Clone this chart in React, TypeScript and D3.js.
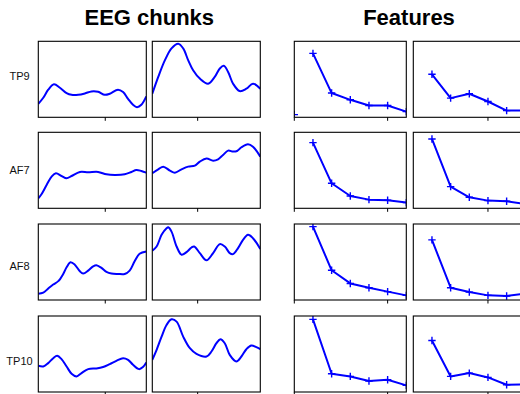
import React from "react";
import * as d3 from "d3";

// ---------- data ----------
const channels = ["TP9", "AF7", "AF8", "TP10"];
const columnTitles = ["EEG chunks", "Features"];

// time (s) covered by each EEG chunk and the one tick shown on each
const chunkDomains: [number, number][] = [
  [0.38, 1.38],
  [1.58, 2.58],
];
const chunkTicks = [[1.0], [2.0]];

// EEG samples: [time (s), amplitude]
const tp9Chunk1: [number, number][] = [
  [0.38, 17.7], [0.426, 25.7], [0.472, 36.3], [0.525, 43.4], [0.58, 38.9], [0.642, 31.9],
  [0.688, 29.6], [0.749, 29.6], [0.811, 31.4], [0.872, 34.1], [0.934, 33.6], [0.995, 29.6],
  [1.042, 31.0], [1.118, 36.3], [1.165, 33.2], [1.211, 24.3], [1.257, 16.4], [1.294, 13.3],
  [1.334, 16.4], [1.38, 27.4],
];
const tp9Chunk2: [number, number][] = [
  [1.58, 31.0], [1.635, 53.1], [1.697, 75.2], [1.758, 90.7], [1.82, 96.9], [1.866, 90.7],
  [1.912, 75.2], [1.958, 61.9], [2.02, 50.9], [2.097, 44.2], [2.158, 53.1], [2.205, 64.2],
  [2.242, 67.7], [2.282, 59.7], [2.328, 44.2], [2.389, 34.5], [2.451, 37.6], [2.512, 44.2],
  [2.58, 37.6],
];
const af7Chunk1: [number, number][] = [
  [0.38, 13.2], [0.411, 18.9], [0.457, 30.7], [0.503, 41.7], [0.543, 46.1], [0.595, 42.5],
  [0.642, 39.5], [0.688, 42.5], [0.765, 47.8], [0.842, 47.4], [0.934, 47.8], [1.011, 44.7],
  [1.088, 43.9], [1.18, 44.7], [1.242, 47.8], [1.288, 50.4], [1.334, 49.1], [1.38, 46.9],
];
const af7Chunk2: [number, number][] = [
  [1.58, 46.1], [1.635, 51.3], [1.682, 54.8], [1.743, 49.6], [1.789, 46.9], [1.851, 51.3],
  [1.912, 54.8], [1.974, 56.1], [2.02, 61.4], [2.082, 65.4], [2.143, 62.7], [2.189, 64.5],
  [2.235, 70.2], [2.282, 75.9], [2.328, 74.6], [2.365, 75.4], [2.405, 80.3], [2.466, 84.2],
  [2.512, 81.1], [2.58, 68.0],
];
const af8Chunk1: [number, number][] = [
  [0.38, 8.3], [0.426, 9.6], [0.472, 15.2], [0.518, 20.4], [0.565, 24.8], [0.611, 34.3],
  [0.642, 43.0], [0.678, 49.6], [0.718, 46.5], [0.765, 37.8], [0.795, 34.8], [0.842, 38.7],
  [0.888, 44.3], [0.918, 45.7], [0.965, 42.2], [1.011, 37.0], [1.057, 34.8], [1.118, 34.3],
  [1.18, 34.3], [1.226, 38.7], [1.272, 50.9], [1.318, 60.9], [1.38, 63.9],
];
const af8Chunk2: [number, number][] = [
  [1.58, 64.8], [1.62, 70.4], [1.666, 85.7], [1.712, 94.3], [1.728, 95.7], [1.758, 90.0],
  [1.805, 70.4], [1.851, 59.6], [1.897, 63.0], [1.943, 69.1], [1.968, 70.4], [2.02, 61.7],
  [2.082, 52.2], [2.143, 61.7], [2.205, 73.5], [2.251, 70.4], [2.297, 61.7], [2.328, 60.4],
  [2.374, 68.3], [2.42, 79.1], [2.466, 85.7], [2.512, 81.3], [2.58, 67.0],
];
const tp10Chunk1: [number, number][] = [
  [0.38, 34.5], [0.426, 33.6], [0.472, 38.0], [0.518, 44.5], [0.555, 47.6], [0.595, 43.2],
  [0.642, 33.6], [0.688, 24.0], [0.734, 20.5], [0.78, 24.9], [0.842, 30.1], [0.918, 31.0],
  [0.98, 32.8], [1.042, 36.7], [1.103, 41.0], [1.165, 44.5], [1.211, 42.4], [1.257, 35.8],
  [1.312, 30.1], [1.349, 32.8], [1.38, 38.9],
];
const tp10Chunk2: [number, number][] = [
  [1.58, 42.4], [1.62, 55.5], [1.666, 72.9], [1.712, 88.2], [1.758, 95.6], [1.805, 92.6],
  [1.866, 72.9], [1.928, 57.6], [1.989, 50.2], [2.082, 46.7], [2.128, 53.3], [2.174, 64.2],
  [2.211, 69.4], [2.251, 64.2], [2.297, 48.9], [2.358, 40.2], [2.405, 46.7], [2.451, 56.3],
  [2.497, 61.1], [2.543, 59.0], [2.58, 56.3],
];

// features: index 1..6 per chunk
const featureDomain: [number, number] = [0, 6];
const featureTicks = [[0, 5], [4]];
const featureIndex = [1, 2, 3, 4, 5, 6];
const tp9Feat1 = [84.1, 31.9, 23.0, 15.5, 15.5, 7.5];
const tp9Feat2 = [56.6, 25.2, 31.0, 20.8, 8.8, 8.8];
const af7Feat1 = [86.4, 32.9, 16.2, 11.4, 10.5, 7.5];
const af7Feat2 = [91.2, 28.5, 14.5, 10.1, 9.2, 5.7];
const af8Feat1 = [96.5, 39.1, 21.8, 16.2, 11.0, 6.1];
const af8Feat2 = [79.1, 16.2, 10.4, 6.1, 5.2, 8.7];
const tp10Feat1 = [95.6, 24.0, 20.5, 14.4, 16.2, 8.7];
const tp10Feat2 = [67.7, 20.5, 24.9, 19.2, 9.6, 10.0];
// index-0 feature (only visible for TP9, chunk 1)
const feature0 = [[3.5, null], [null, null], [null, null], [null, null]];

const eegChunks = [
  [tp9Chunk1, tp9Chunk2],
  [af7Chunk1, af7Chunk2],
  [af8Chunk1, af8Chunk2],
  [tp10Chunk1, tp10Chunk2],
];
const featureSets = [
  [tp9Feat1, tp9Feat2],
  [af7Feat1, af7Feat2],
  [af8Feat1, af8Feat2],
  [tp10Feat1, tp10Feat2],
];

// ---------- layout ----------
const W = 520;
const H = 394;
const rowTops = [41.3, 132.3, 224, 316];
const panelH = 76;
const colLefts = [38.3, 152.3, 294.3, 413.3];
const colWidths = [108, 108, 112, 112];
const labelY = [75.7, 170, 265.5, 360.5];
const BLUE = "#0000ff";
const FONT = "'Liberation Sans', Arial, Helvetica, sans-serif";

function Panel({ row, col }: { row: number; col: number }) {
  const x0 = colLefts[col];
  const y0 = rowTops[row];
  const w = colWidths[col];
  const h = panelH;
  const id = `clip-${row}-${col}`;
  const isEEG = col < 2;
  const chunk = col % 2;
  const x = d3
    .scaleLinear()
    .domain(isEEG ? chunkDomains[chunk] : featureDomain)
    .range([x0, x0 + w]);
  const y = d3.scaleLinear().domain([0, 100]).range([y0 + h, y0]);
  const ticks = isEEG ? chunkTicks[chunk] : featureTicks[chunk];

  let content: React.ReactNode = null;
  if (isEEG) {
    const data = eegChunks[row][chunk];
    const line = d3
      .line<[number, number]>()
      .x((d) => x(d[0]))
      .y((d) => y(d[1]))
      .curve(d3.curveCatmullRom.alpha(0.5));
    content = (
      <path d={line(data) || ""} fill="none" stroke={BLUE} strokeWidth={2} strokeLinejoin="round" />
    );
  } else {
    const vals = featureSets[row][chunk];
    const pts: [number, number][] = featureIndex.map((k, i) => [k, vals[i]]);
    const line = d3
      .line<[number, number]>()
      .x((d) => x(d[0]))
      .y((d) => y(d[1]));
    const f0 = feature0[row][chunk];
    const markerPts: [number, number][] = f0 != null ? [[0, f0 as number], ...pts] : pts;
    const m = 3.7;
    content = (
      <g>
        <path d={line(pts) || ""} fill="none" stroke={BLUE} strokeWidth={2} strokeLinejoin="round" />
        {markerPts.map((p, i) => (
          <path
            key={i}
            d={`M${x(p[0]) - m},${y(p[1])}H${x(p[0]) + m}M${x(p[0])},${y(p[1]) - m}V${y(p[1]) + m}`}
            stroke={BLUE}
            strokeWidth={1.4}
          />
        ))}
      </g>
    );
  }

  return (
    <g>
      <defs>
        <clipPath id={id}>
          <rect x={x0} y={y0} width={w} height={h} />
        </clipPath>
      </defs>
      <g clipPath={`url(#${id})`}>{content}</g>
      <rect x={x0} y={y0} width={w} height={h} fill="none" stroke="#000" strokeWidth={1.1} />
      {ticks.map((t, i) => (
        <line key={i} x1={x(t)} x2={x(t)} y1={y0 + h} y2={y0 + h + 3.5} stroke="#000" strokeWidth={1} />
      ))}
    </g>
  );
}

export default function App() {
  return (
    <svg
      width={W}
      height={H}
      style={{ position: "fixed", left: 0, top: 0, background: "#fff" }}
      fontFamily={FONT}
    >
      <rect x={0} y={0} width={W} height={H} fill="#fff" />
      <text x={149.3} y={25} textAnchor="middle" fontSize={22} fontWeight="bold" fill="#000">
        {columnTitles[0]}
      </text>
      <text x={409} y={25} textAnchor="middle" fontSize={22} fontWeight="bold" fill="#000">
        {columnTitles[1]}
      </text>
      {channels.map((c, r) => (
        <text key={c} x={19.5} y={labelY[r]} textAnchor="middle" dominantBaseline="central" fontSize={11} fill="#111">
          {c}
        </text>
      ))}
      {channels.map((c, r) =>
        [0, 1, 2, 3].map((col) => <Panel key={`${c}-${col}`} row={r} col={col} />)
      )}
    </svg>
  );
}
